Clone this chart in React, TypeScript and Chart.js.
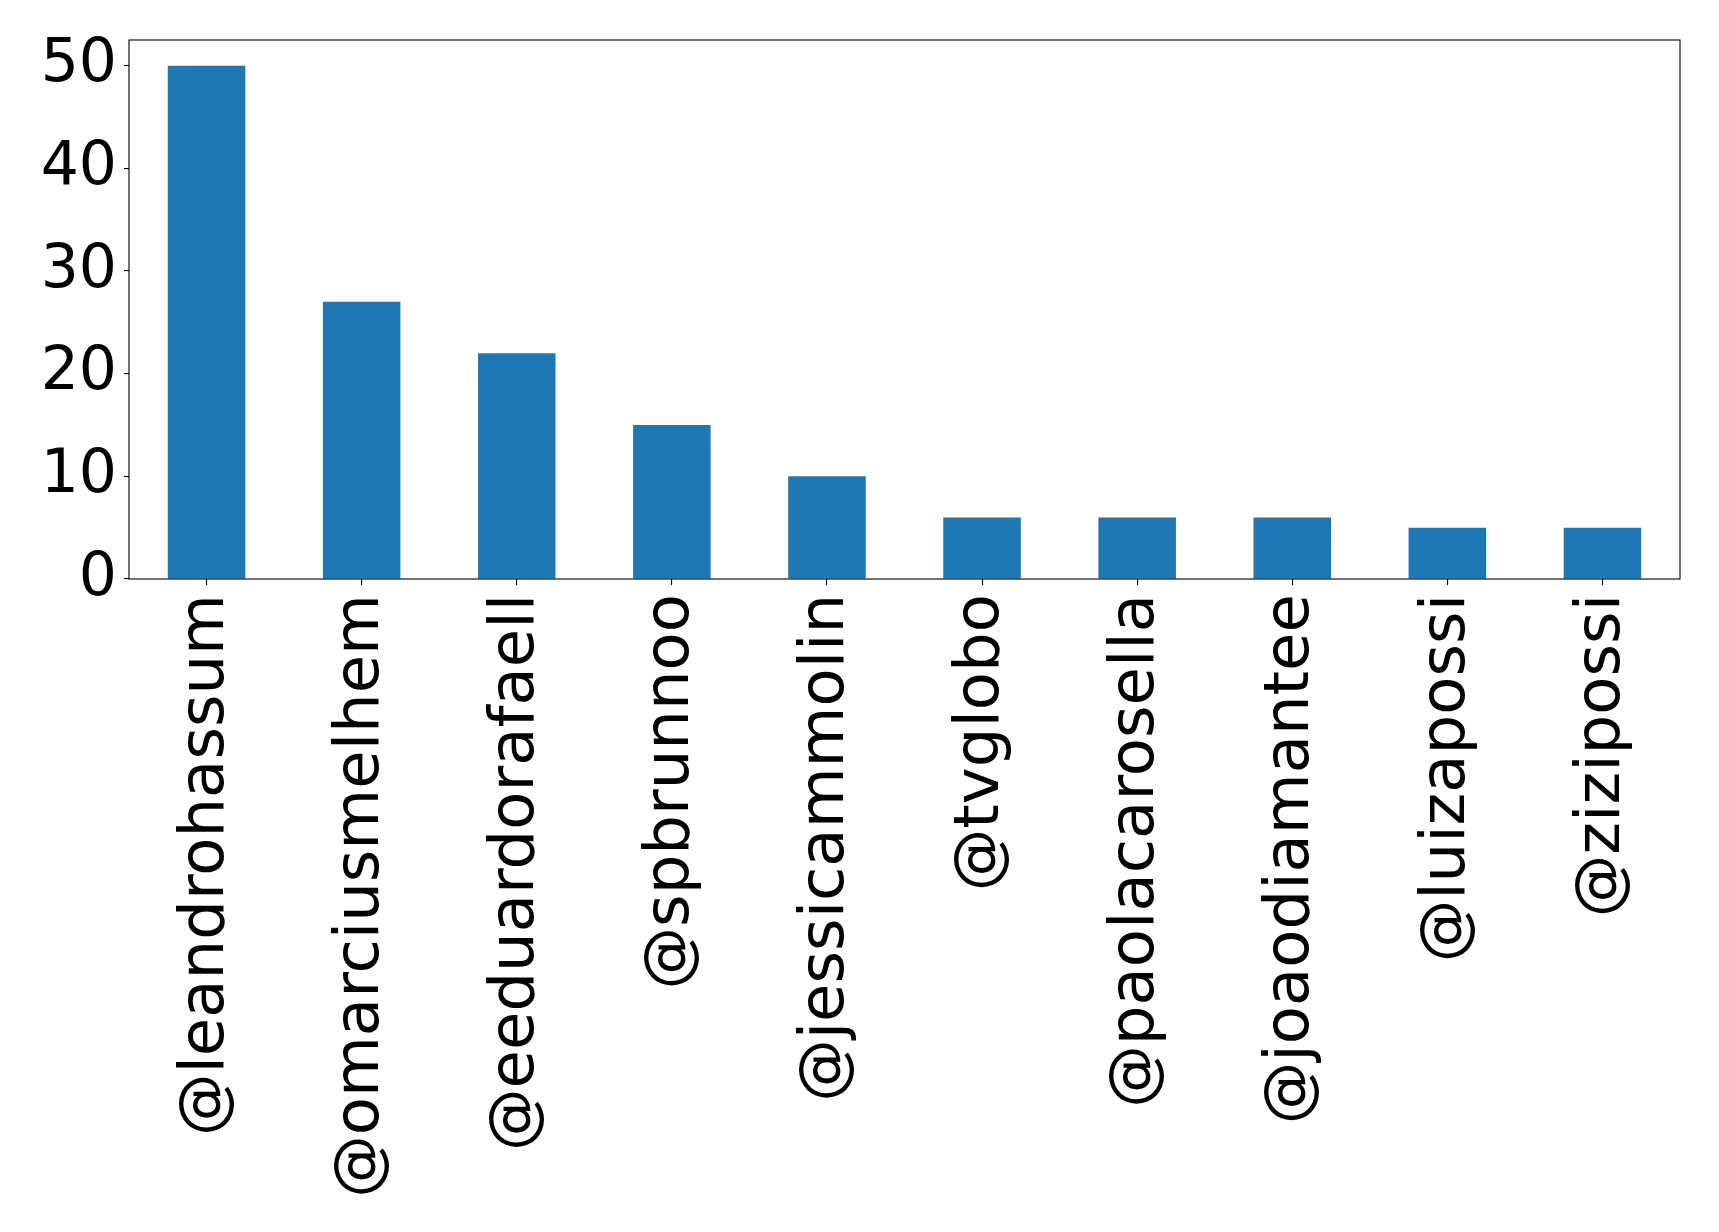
import React, { useEffect, useRef } from "react";
import { Chart, registerables } from "chart.js";

Chart.register(...registerables);

const categories = [
  "@leandrohassum",
  "@omarciusmelhem",
  "@eeduardorafaell",
  "@spbrunnoo",
  "@jessicammolin",
  "@tvglobo",
  "@paolacarosella",
  "@joaodiamantee",
  "@luizapossi",
  "@zizipossi",
];
const counts = [50, 27, 22, 15, 10, 6, 6, 6, 5, 5];
const yTicks = [0, 10, 20, 30, 40, 50];

const W = 1719;
const H = 1232;

const framePlugin = {
  id: "frame",
  afterDraw(chart: any) {
    const { ctx, chartArea } = chart;
    ctx.save();
    ctx.strokeStyle = "#000";
    ctx.lineWidth = 1.1;
    ctx.strokeRect(
      chartArea.left,
      chartArea.top,
      chartArea.right - chartArea.left,
      chartArea.bottom - chartArea.top
    );
    ctx.restore();
  },
};

export default function App() {
  const ref = useRef<HTMLCanvasElement | null>(null);
  useEffect(() => {
    if (!ref.current) return;
    const xFont = { family: "'DejaVu Sans'", size: 62.5 };
    const yFont = { family: "'DejaVu Sans'", size: 60 };
    const chart = new Chart(ref.current, {
      type: "bar",
      data: {
        labels: categories,
        datasets: [
          {
            data: counts,
            backgroundColor: "#1f77b4",
            barPercentage: 0.5,
            categoryPercentage: 1,
          },
        ],
      },
      options: {
        responsive: false,
        animation: false,
        layout: { padding: { top: 40, right: 39, left: 0, bottom: 0 } },
        plugins: { legend: { display: false }, tooltip: { enabled: false } },
        scales: {
          x: {
            offset: true,
            grid: {
              drawOnChartArea: false,
              color: "#000",
              tickLength: 6,
              lineWidth: 1.1,
              offset: false,
            },
            border: { display: false },
            ticks: {
              color: "#000",
              font: xFont,
              minRotation: 90,
              maxRotation: 90,
              autoSkip: false,
              padding: 9,
            },
            afterFit(scale: any) {
              scale.height = H - 579;
              scale.paddingLeft = 0;
              scale.paddingRight = 0;
              scale.paddingTop = 0;
              scale.paddingBottom = 0;
            },
          },
          y: {
            min: 0,
            max: 52.5,
            grid: {
              drawOnChartArea: false,
              color: "#000",
              tickLength: 5,
              lineWidth: 1.1,
            },
            border: { display: false },
            ticks: { color: "#000", font: yFont, padding: 7 },
            afterBuildTicks(scale: any) {
              scale.ticks = yTicks.map((v) => ({ value: v }));
            },
            afterFit(scale: any) {
              scale.width = 129;
              scale.paddingTop = 0;
              scale.paddingBottom = 0;
              scale.paddingLeft = 0;
              scale.paddingRight = 0;
            },
          },
        },
      },
      plugins: [framePlugin],
    });
    return () => chart.destroy();
  }, []);
  return (
    <div style={{ position: "absolute", left: 0, top: 0, width: W, height: H, background: "#fff" }}>
      <canvas ref={ref} width={W} height={H} style={{ width: W, height: H, display: "block" }} />
    </div>
  );
}
